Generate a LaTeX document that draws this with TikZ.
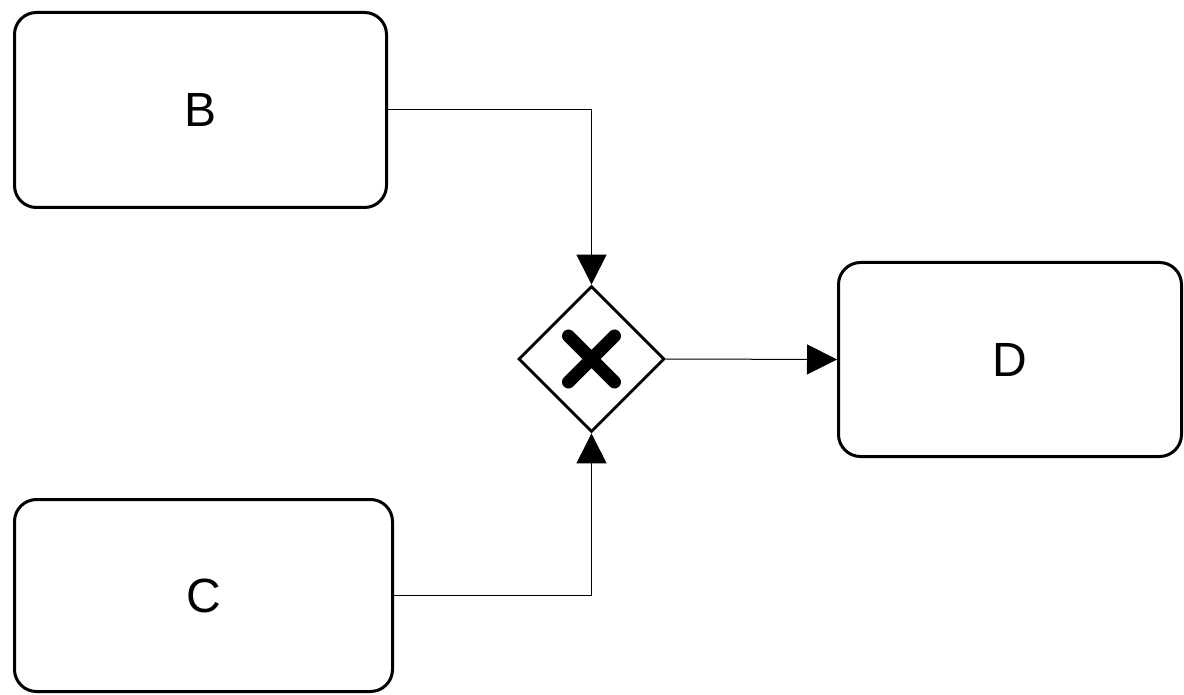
\documentclass[tikz,border=0pt]{standalone}
\usepackage{fontspec}
\setmainfont{Liberation Sans}
\usetikzlibrary{positioning,shapes.geometric,arrows.meta}

\begin{document}
\begin{tikzpicture}[x=0.5pt,y=-0.5pt]
 \useasboundingbox (0,0) rectangle (1184,695);
 \tikzstyle{task} = [draw,rounded corners=11pt,line width=1.5pt,
   font=\fontsize{24}{29}\selectfont]
 \tikzstyle{flow} = [line width=0.5pt,-{Triangle[length=15pt,width=15pt]}]
 \node[task,minimum width=186pt,minimum height=97.5pt] (b) at (200.5,110) {B};
 \node[task,minimum width=189pt,minimum height=96pt] (c) at (203.5,595.5) {C};
 \node[task,minimum width=171.5pt,minimum height=97pt] (d) at (1010,359.5) {D};
 \node[draw,diamond,aspect=1,line width=1.4pt,inner sep=0pt,
   minimum width=73pt,minimum height=73pt] (xor) at (591.5,359) {};
 % the cross inside the gateway
 \draw[line width=6.5pt,line cap=round]
   ([shift={(-23,-23)}]xor.center) -- ([shift={(23,23)}]xor.center)
   ([shift={(-23,23)}]xor.center) -- ([shift={(23,-23)}]xor.center);
 \draw [flow] (b.east) -| (xor.north);
 \draw [flow] (c.east) -| (xor.south);
 \draw [flow] (xor.east) -- (d.west);
\end{tikzpicture}
\end{document}
